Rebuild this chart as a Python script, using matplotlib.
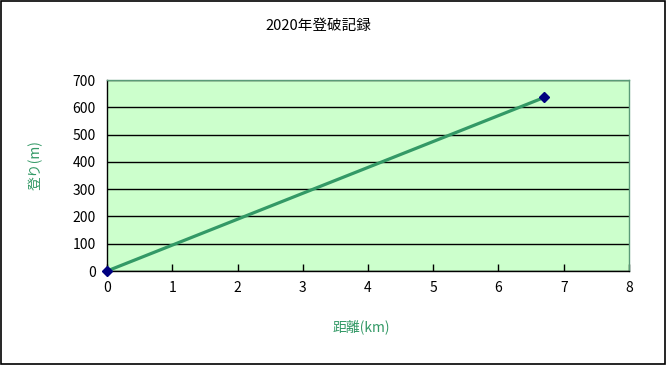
import matplotlib
matplotlib.use("Agg")
import matplotlib.pyplot as plt
from matplotlib.patches import Rectangle

plt.rcParams['font.family'] = ['Noto Sans CJK JP', 'DejaVu Sans']

distance_km = [0, 6.7]
climb_m = [0, 636]
x_ticks = [0, 1, 2, 3, 4, 5, 6, 7, 8]
y_ticks = [0, 100, 200, 300, 400, 500, 600, 700]
title = "2020年登破記録"
xlabel = "距離(km)"
ylabel = "登り(m)"

fig = plt.figure(figsize=(6.66, 3.65), dpi=100)
fig.patch.set_facecolor('white')
fig.add_artist(Rectangle((0.0008, 0.0014), 0.9984, 0.997, transform=fig.transFigure,
                         fill=False, edgecolor='black', linewidth=1.2))

ax = fig.add_axes([0.1607, 0.2575, 0.7837, 0.5233])
ax.set_facecolor('#CCFFCC')
ax.set_xlim(0, 8)
ax.set_ylim(0, 700)
ax.set_xticks(x_ticks)
ax.set_yticks(y_ticks)
ax.yaxis.grid(True, color='black', linewidth=1.0)
ax.set_axisbelow(True)

ax.plot(distance_km, climb_m, color='#339966', linewidth=2.3, zorder=3, clip_on=False)
ax.plot(distance_km, climb_m, linestyle='none', marker='D', markersize=5.5,
        color='#000080', zorder=4, clip_on=False)

for s in ['left', 'bottom']:
    ax.spines[s].set_color('black')
    ax.spines[s].set_linewidth(1.0)
for s in ['top', 'right']:
    ax.spines[s].set_color('#5a9a78')
    ax.spines[s].set_linewidth(1.0)

ax.tick_params(axis='x', direction='in', length=5, width=1, labelsize=10, pad=7, colors='black')
ax.tick_params(axis='y', direction='out', length=0, labelsize=10, pad=8, colors='black')

fig.text(0.478, 0.93, title, ha='center', va='center', fontsize=10.5, color='black')
fig.text(0.053, 0.548, ylabel, ha='center', va='center', rotation=90, fontsize=10, color='#339966')
fig.text(0.543, 0.105, xlabel, ha='center', va='center', fontsize=10, color='#339966')

fig.savefig('out.png', dpi=100)
